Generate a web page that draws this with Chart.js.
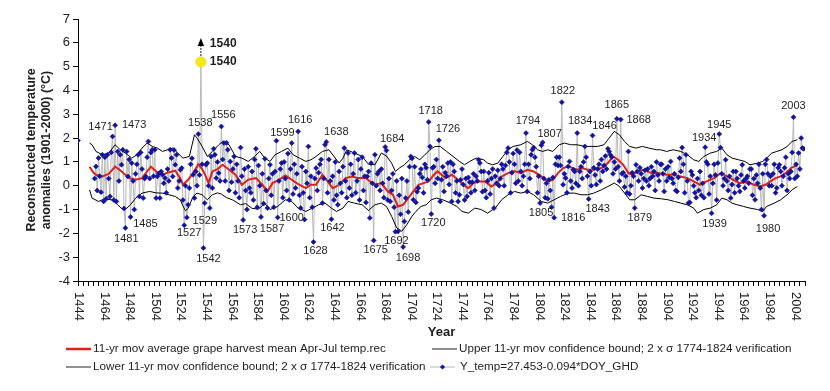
<!DOCTYPE html>
<html>
<head>
<meta charset="utf-8">
<title>Grape harvest temperature reconstruction</title>
<script src="https://cdn.jsdelivr.net/npm/chart.js@4.4.1/dist/chart.umd.min.js"></script>
<style>
    html, body { margin: 0; padding: 0; background: #fff; }
    #wrap { width: 830px; height: 391px; position: relative; }
</style>
</head>
<body>
<div id="wrap"><canvas id="chart"></canvas></div>
<script>
// ── Data ──────────────────────────────────────────────────
var firstYear = 1444;
var n = null;

// Y_temp = 27.453 - 0.094*DOY_GHD, one value per year from 1444 (null = no data)
var tempVals = [
    1.9, n, n, n, n, n,                                              // 1444-1449
    n, n, n, n, n, n, n, 0.3, 0.81, -0.2,                            // 1450
    1.16, 0.4, -0.27, 1.3, -0.66, 1.2, -0.55, 1.3, 0.3, -0.45,       // 1460
    1.4, 2.07, -0.6, 2.54, -0.66, 1.44, 0.2, 1.3, 0.88, 1.51,        // 1470
    -0.96, -1.77, 1.44, 0.39, 1.1, -1.31, 0.95, 0.2, -1.0, 0.5,      // 1480
    0.9, 1.3, -0.45, 1.4, 0.7, -0.52, 0.3, 0.39, 1.2, 1.86,          // 1490
    0.3, 1.4, 1.51, 0.4, 1.51, -0.52, 0.39, 0.5, -0.52, 0.6,         // 1500
    0.46, 0.1, 0.32, -0.3, 0.7, 0.2, 1.51, 1.16, 0.39, 1.5,          // 1510
    0.88, 1.3, -0.1, 0.2, 0.67, 0.74, -0.6, -1.66, 0.0, -1.33,       // 1520
    -0.8, -0.1, 0.9, 1.15, 0.46, -0.52, 0.6, 0.0, 2.17, 0.45,        // 1530
    5.2, 0.9, -2.61, -0.73, 0.88, 0.95, 0.0, -0.94, 1.23, -0.1,      // 1540
    1.55, 1.3, 0.32, 1.0, 0.53, 0.2, 2.49, 1.1, 1.79, 0.2,           // 1550
    1.8, 1.51, -0.2, 1.02, 0.15, 0.7, 1.23, -0.3, 0.9, 0.2,          // 1560
    -0.5, 1.6, 0.4, -1.44, 0.7, -0.2, -1.0, 0.8, -0.1, -0.3,         // 1570
    0.6, -0.6, 1.1, 1.55, -0.9, 0.85, 0.0, -1.31, 0.5, -0.75,        // 1580
    1.13, -0.2, -0.94, 0.3, 0.88, -0.4, 0.5, -0.9, 0.6, 1.89,        // 1590
    -1.33, 0.2, 0.7, 0.95, -0.5, 1.0, 0.3, -0.2, 1.35, -0.6,         // 1600
    0.7, 1.79, -0.35, 0.9, -0.1, 0.5, 2.28, -0.4, -0.94, 0.8,        // 1610
    -0.3, -1.42, 0.6, 0.1, 1.65, -0.5, 0.4, -0.9, -2.36, 0.3,        // 1620
    0.74, -0.2, 0.55, 0.9, 1.1, -0.73, 0.3, 1.72, 1.84, -0.3,        // 1630
    1.1, 0.2, -1.41, 0.4, -0.6, 1.0, -0.4, -0.8, 0.6, 0.1,           // 1640
    -0.3, 0.8, 1.58, 0.2, -0.5, 1.37, -0.1, 0.9, -0.4, 0.5,          // 1650
    1.37, -0.3, 0.2, 1.1, -0.6, 0.7, 1.2, -0.2, 0.4, -0.7,           // 1660
    0.39, 0.6, -1.35, 0.95, 0.1, -2.3, 1.3, 0.0, 0.5, 0.6,           // 1670
    -0.2, 0.7, 0.1, -0.5, 1.63, 1.48, -0.6, 0.3, -0.66, -0.2,        // 1680
    0.5, -0.9, -1.93, 0.2, -1.92, -0.4, -1.2, 0.3, -2.57, -1.5,      // 1690
    -0.52, 0.2, -1.1, 0.8, 1.23, 1.15, -0.59, 0.8, -0.7, -0.25,      // 1700
    -0.1, 0.5, 0.7, 0.35, -0.3, 0.9, 0.75, 0.25, 2.68, 1.65,         // 1710
    -1.19, 0.75, 0.8, 0.1, 1.1, 0.3, 1.91, -0.66, 0.25, 0.8,         // 1720
    -0.24, 0.55, 0.4, 0.95, 0.05, 1.0, -0.66, 0.9, 0.6, -0.3,        // 1730
    0.2, -0.66, -0.38, 0.25, 0.7, 0.05, -0.6, 0.3, -0.45, 0.35,      // 1740
    0.15, -0.3, 0.15, 0.5, -0.2, 0.4, 0.2, 1.09, 0.95, 0.6,          // 1750
    -0.25, 0.6, -0.2, -0.5, 0.2, 0.55, -0.35, 0.3, 0.7, -0.94,       // 1760
    0.4, 0.1, 0.65, 0.0, 0.3, 0.9, 0.7, 0.0, 0.85, 1.4,              // 1770
    1.58, 1.0, -0.3, 0.55, 1.35, 0.9, 0.1, 1.5, 0.2, 1.4,            // 1780
    0.6, 0.0, 0.4, 0.9, 2.21, -0.24, 0.9, 0.3, 1.3, 1.51,            // 1790
    1.6, 1.2, 0.8, -0.3, 0.4, -0.73, 1.7, 1.82, 0.3, -0.5,           // 1800
    0.1, -0.55, 0.25, -0.2, -0.9, 0.35, -1.34, 0.9, 1.2, 0.85,       // 1810
    1.2, 0.85, 3.51, 0.04, 0.5, 0.32, -0.3, 0.81, 1.02, 0.2,         // 1820
    -0.1, 0.67, 0.6, 0.1, 2.21, 0.0, 0.6, 0.8, 0.3, 1.0,             // 1830
    1.65, 1.2, 0.4, -0.56, 0.6, 0.0, 2.11, 0.75, 0.45, 0.05,         // 1840
    0.7, 0.9, 0.2, 1.1, 0.6, 0.85, 1.25, 0.7, 1.55, 1.44,            // 1850
    1.3, 1.2, 0.5, 1.0, 0.7, 2.81, 0.8, 0.2, 2.78, 0.5,              // 1860
    0.55, -0.05, 0.4, -0.3, 1.44, -0.35, 0.0, 0.55, 0.4, -0.94,      // 1870
    0.88, 0.6, 0.2, 0.75, 0.5, -0.1, 0.3, 0.65, 0.2, 0.7,            // 1880
    0.0, 0.3, 0.8, 0.4, 0.6, -0.2, 1.0, 0.45, 0.2, 0.9,              // 1890
    0.9, 0.5, -0.24, 0.7, 0.2, 0.8, 0.35, 1.02, 0.3, 0.1,            // 1900
    0.5, -0.2, -0.24, 0.35, 1.16, 0.6, 1.6, 0.9, -0.3, 1.3,          // 1910
    0.2, -0.73, -0.7, 0.6, 0.45, 0.0, -0.3, -0.5, 0.3, -0.2,         // 1920
    0.6, -0.4, 0.1, -0.5, 1.62, 1.0, 0.9, -0.35, 0.4, -1.16,         // 1930
    0.1, 0.9, 0.45, -0.6, 0.95, 2.17, 1.6, 0.5, 0.0, 0.3,            // 1940
    1.09, 0.2, -0.2, 0.4, -0.52, 0.05, 0.6, -0.3, 0.6, 0.3,          // 1950
    0.0, -0.24, 0.45, 0.88, 0.2, -0.1, 0.3, 0.4, 0.1, 0.7,           // 1960
    0.7, -0.4, 0.3, -0.59, 0.45, 0.1, 0.9, -0.1, -1.0, 0.5,          // 1970
    -1.26, 0.9, 1.1, 0.5, 0.0, 0.4, 0.0, 0.5, 0.9, -0.3,             // 1980
    -0.1, 0.75, 0.88, 0.6, 0.0, 0.4, 0.75, 1.2, -0.2, 0.5,           // 1990
    0.3, 0.6, 1.4, 2.88, 0.3, 0.9, 0.4, 1.37, 0.7, 2.0,              // 2000
    1.58, 1.55                                                       // 2010
];

// 11-yr moving average (red)
var redYears = [
    1453, 1456, 1458, 1463, 1468, 1473, 1477, 1480, 1485, 1489,
    1494, 1498, 1501, 1505, 1510, 1515, 1520, 1524, 1526, 1530,
    1534, 1538, 1541, 1543, 1546, 1549, 1553, 1557, 1562, 1567,
    1572, 1577, 1583, 1588, 1592, 1596, 1601, 1606, 1611, 1616,
    1622, 1626, 1630, 1635, 1639, 1643, 1648, 1653, 1658, 1663,
    1669, 1672, 1676, 1681, 1686, 1690, 1694, 1698, 1702, 1706,
    1710, 1714, 1718, 1722, 1725, 1731, 1736, 1741, 1745, 1749,
    1753, 1757, 1762, 1767, 1771, 1775, 1780, 1785, 1790, 1795,
    1800, 1806, 1811, 1815, 1819, 1823, 1827, 1831, 1834, 1838,
    1842, 1847, 1853, 1858, 1862, 1866, 1870, 1874, 1877, 1881,
    1886, 1892, 1897, 1900, 1904, 1909, 1915, 1920, 1925, 1930,
    1935, 1941, 1946, 1951, 1956, 1961, 1967, 1972, 1977, 1981,
    1985, 1989, 1993, 1997, 2001, 2006
];
var redVals = [
    0.80, 0.55, 0.46, 0.39, 0.50, 0.80, 0.65, 0.50, 0.30, 0.25,
    0.32, 0.60, 0.80, 0.60, 0.46, 0.57, 0.63, 0.30, 0.04, 0.25,
    0.53, 0.90, 0.70, 0.50, 0.11, 0.60, 0.70, 0.88, 0.67, 0.46,
    0.04, 0.25, 0.32, 0.04, -0.24, 0.11, 0.25, 0.43, 0.25, 0.07,
    -0.10, 0.04, 0.04, 0.46, 0.18, -0.10, 0.04, 0.32, 0.39, 0.32,
    0.32, 0.18, 0.04, 0.11, -0.24, -0.38, -0.87, -0.80, -0.52, -0.24,
    0.04, 0.11, 0.18, 0.46, 0.60, 0.32, 0.46, 0.25, 0.04, -0.10,
    0.11, 0.18, 0.18, -0.03, 0.10, 0.39, 0.53, 0.62, 0.53, 0.67,
    0.60, 0.39, 0.18, 0.25, 0.53, 0.74, 0.81, 0.74, 0.67, 0.74,
    0.67, 0.67, 0.74, 0.95, 1.23, 1.09, 0.88, 0.53, 0.46, 0.60,
    0.67, 0.53, 0.53, 0.50, 0.46, 0.46, 0.39, 0.32, 0.18, 0.04,
    0.18, 0.32, 0.53, 0.39, 0.25, 0.11, 0.18, 0.04, -0.03, 0.04,
    0.18, 0.32, 0.39, 0.53, 0.74, 0.88
];

// upper confidence bound
var upperYears = [
    1453, 1455, 1458, 1463, 1468, 1473, 1477, 1481, 1486, 1490,
    1494, 1498, 1502, 1506, 1510, 1514, 1518, 1522, 1526, 1531,
    1535, 1537, 1541, 1545, 1549, 1554, 1557, 1562, 1567, 1572,
    1577, 1582, 1586, 1590, 1594, 1598, 1603, 1608, 1612, 1617,
    1622, 1626, 1630, 1635, 1640, 1644, 1648, 1651, 1654, 1660,
    1666, 1671, 1676, 1681, 1685, 1689, 1692, 1695, 1699, 1703,
    1707, 1711, 1715, 1719, 1723, 1727, 1732, 1737, 1742, 1746,
    1750, 1755, 1761, 1764, 1768, 1772, 1776, 1780, 1784, 1790,
    1795, 1799, 1803, 1807, 1811, 1815, 1820, 1824, 1829, 1834,
    1840, 1845, 1850, 1855, 1859, 1863, 1867, 1871, 1875, 1880,
    1885, 1890, 1896, 1899, 1904, 1909, 1915, 1920, 1925, 1929,
    1933, 1938, 1943, 1947, 1951, 1955, 1960, 1965, 1969, 1975,
    1979, 1982, 1986, 1990, 1994, 1998, 2002, 2006
];
var upperVals = [
    1.79, 1.72, 1.44, 1.30, 1.37, 1.72, 1.51, 1.37, 1.16, 1.30,
    1.58, 1.79, 1.65, 1.58, 1.44, 1.51, 1.58, 1.37, 1.16, 1.23,
    2.14, 2.00, 1.65, 1.23, 1.44, 1.72, 1.86, 1.72, 1.23, 1.16,
    1.02, 1.23, 1.44, 1.16, 1.02, 1.30, 1.44, 1.58, 1.30, 1.16,
    1.02, 1.09, 1.23, 1.44, 1.51, 1.23, 0.95, 1.16, 1.51, 1.37,
    1.23, 0.90, 0.88, 1.37, 1.25, 0.95, 0.60, 0.74, 0.88, 1.09,
    1.23, 1.09, 1.30, 1.51, 1.65, 1.65, 1.44, 1.23, 1.02, 0.88,
    1.02, 1.16, 1.09, 0.95, 0.88, 0.95, 1.23, 1.51, 1.65, 1.72,
    1.86, 1.72, 1.51, 1.44, 1.51, 1.44, 1.72, 1.79, 1.72, 1.72,
    1.65, 1.65, 1.65, 1.72, 2.00, 2.28, 2.14, 1.86, 1.65, 1.58,
    1.65, 1.58, 1.51, 1.51, 1.44, 1.51, 1.44, 1.30, 1.09, 1.02,
    1.23, 1.37, 1.44, 1.58, 1.30, 1.16, 1.09, 1.02, 0.88, 0.95,
    1.02, 1.16, 1.37, 1.44, 1.51, 1.65, 1.86, 1.93
];

// lower confidence bound
var lowerYears = [
    1453, 1455, 1460, 1465, 1471, 1475, 1479, 1482, 1485, 1489,
    1494, 1500, 1505, 1510, 1515, 1520, 1524, 1526, 1528, 1530,
    1534, 1537, 1541, 1545, 1549, 1553, 1556, 1560, 1565, 1571,
    1575, 1580, 1585, 1590, 1594, 1600, 1606, 1611, 1616, 1622,
    1627, 1632, 1637, 1642, 1646, 1651, 1655, 1660, 1666, 1671,
    1676, 1681, 1685, 1689, 1693, 1697, 1701, 1705, 1708, 1712,
    1716, 1720, 1724, 1729, 1735, 1740, 1744, 1749, 1754, 1759,
    1764, 1770, 1775, 1780, 1785, 1790, 1795, 1800, 1806, 1811,
    1816, 1821, 1827, 1832, 1837, 1842, 1847, 1853, 1858, 1863,
    1867, 1871, 1875, 1879, 1884, 1889, 1894, 1900, 1905, 1910,
    1915, 1920, 1925, 1928, 1933, 1938, 1943, 1947, 1951, 1955,
    1959, 1964, 1969, 1975, 1979, 1982, 1988, 1993, 1998, 2002,
    2006
];
var lowerVals = [
    -0.17, -0.52, -0.66, -0.55, -0.60, -0.80, -1.00, -0.95, -0.80, -0.52,
    -0.31, -0.24, -0.30, -0.31, -0.38, -0.45, -0.60, -0.85, -1.05, -0.95,
    -0.45, -0.31, -0.38, -0.59, -0.38, -0.30, -0.35, -0.50, -0.60, -0.80,
    -0.75, -0.95, -0.98, -0.75, -1.00, -0.87, -0.59, -0.66, -0.94, -1.08,
    -0.94, -0.80, -0.73, -0.94, -1.08, -0.94, -0.66, -0.73, -0.80, -1.04,
    -0.80, -0.73, -0.87, -1.28, -1.77, -1.91, -1.63, -1.28, -1.08, -0.87,
    -0.80, -0.59, -0.52, -0.59, -0.73, -0.87, -1.08, -1.15, -0.94, -1.00,
    -1.15, -0.94, -0.59, -0.38, -0.24, -0.31, -0.24, -0.38, -0.66, -0.73,
    -0.59, -0.45, -0.31, -0.31, -0.38, -0.38, -0.31, -0.17, -0.03, 0.11,
    -0.03, -0.31, -0.59, -0.59, -0.38, -0.45, -0.52, -0.55, -0.59, -0.66,
    -0.73, -0.80, -0.94, -1.15, -1.00, -0.94, -0.80, -0.52, -0.59, -0.73,
    -0.80, -0.87, -0.94, -1.00, -1.08, -0.87, -0.73, -0.59, -0.38, -0.17,
    -0.03
];

// years labelled on the chart
var labelYears = [1471, 1473, 1481, 1485, 1527, 1529, 1538, 1542, 1556, 1573,
                  1587, 1599, 1600, 1616, 1628, 1638, 1642, 1675, 1684, 1692,
                  1698, 1718, 1720, 1726, 1794, 1805, 1807, 1816, 1822, 1834,
                  1843, 1846, 1865, 1868, 1879, 1934, 1939, 1945, 1980, 2003];
var outlierYear = 1540;

var yTicks = [-4, -3, -2, -1, 0, 1, 2, 3, 4, 5, 6, 7];
var xLabelStep = 20;
var xTickStep = 4;
var xMin = 1444, xMax = 2012;

// ── Styling (kept apart from the data) ────────────────────
var BLUE = '#12129e';
var RED = '#e0201c';
var GREY = '#b9b9b9';
var INK = '#1e1e1e';
var FONT = '"Liberation Sans", Arial, sans-serif';

// label placement relative to its point, px (same order as labelYears)
var labelOffsets = [
    [-12, -9], [19, 0], [1, 11], [15, 7], [5, 8], [18, 4], [2, -11], [5, 11], [2, -11], [2, 10],
    [11, 12], [6, -8], [14, 1], [2, -11], [2, 9], [10, -10], [1, 9], [2, 9], [7, -8], [1, 9],
    [5, 11], [2, -11], [2, 9], [9, -11], [2, -12], [1, 10], [7, -8], [19, 0], [1, -11], [3, -12],
    [9, 10], [12, -10], [0, -14], [18, 0], [5, 10], [-1, -9], [3, 11], [0, -9], [4, 13], [0, -11]
];

// ── Build series ──────────────────────────────────────────
function valueOf(yr) { return tempVals[yr - firstYear]; }

var tempSeries = tempVals.map(function (v, i) { return { x: firstYear + i, y: v }; });
var tempPoints = tempSeries.filter(function (p) { return p.y !== null; });
function pairs(xs, ys) { return xs.map(function (x, i) { return { x: x, y: ys[i] }; }); }

function isOutlier(c) { return c.raw && c.raw.x === outlierYear; }

// ── Overlay: labels, axis texts, legend ───────────────────
var overlay = {
    id: 'overlay',
    afterDatasetsDraw: function (chart) {
        var ctx = chart.ctx, xs = chart.scales.x, ys = chart.scales.y;
        ctx.save();

        // year labels next to the extremes
        ctx.fillStyle = INK;
        ctx.font = '11px ' + FONT;
        ctx.textAlign = 'center';
        ctx.textBaseline = 'middle';
        labelYears.forEach(function (yr, i) {
            var px = xs.getPixelForValue(yr);
            var py = ys.getPixelForValue(valueOf(yr));
            ctx.fillText(String(yr), px + labelOffsets[i][0], py + labelOffsets[i][1]);
        });

        // 1540 off-scale marker: dotted stem, arrow head, two bold labels
        var ox = xs.getPixelForValue(outlierYear);
        var oy = ys.getPixelForValue(valueOf(outlierYear));
        var tip = ys.getPixelForValue(6.2);
        var base = ys.getPixelForValue(5.87);
        ctx.strokeStyle = '#000';
        ctx.lineWidth = 1.2;
        ctx.setLineDash([1.5, 1.5]);
        ctx.beginPath();
        ctx.moveTo(ox, oy - 6);
        ctx.lineTo(ox, base);
        ctx.stroke();
        ctx.setLineDash([]);
        ctx.fillStyle = '#000';
        ctx.beginPath();
        ctx.moveTo(ox, tip);
        ctx.lineTo(ox - 3.2, base);
        ctx.lineTo(ox + 3.2, base);
        ctx.closePath();
        ctx.fill();
        ctx.fillStyle = INK;
        ctx.font = 'bold 12px ' + FONT;
        ctx.textAlign = 'left';
        ctx.fillText(String(outlierYear), ox + 9, ys.getPixelForValue(5.95));
        ctx.fillText(String(outlierYear), ox + 9, oy);

        ctx.restore();
    },
    afterDraw: function (chart) {
        var ctx = chart.ctx, xs = chart.scales.x, area = chart.chartArea;
        ctx.save();
        ctx.fillStyle = INK;

        // x tick labels, rotated to read downwards
        ctx.font = '13px ' + FONT;
        ctx.textAlign = 'left';
        ctx.textBaseline = 'middle';
        for (var yr = xMin; yr <= xMax; yr += xLabelStep) {
            ctx.save();
            ctx.translate(xs.getPixelForValue(yr) + 0.5, area.bottom + 11);
            ctx.rotate(Math.PI / 2);
            ctx.fillText(String(yr), 0, 0);
            ctx.restore();
        }

        // axis titles
        ctx.font = 'bold 13px ' + FONT;
        ctx.textAlign = 'center';
        ctx.fillText('Year', (area.left + area.right) / 2, 332);
        ctx.save();
        ctx.translate(32, (area.top + area.bottom) / 2);
        ctx.rotate(-Math.PI / 2);
        ctx.font = 'bold 12.5px ' + FONT;
        ctx.fillText('Reconstructed temperature', 0, 0);
        ctx.fillText('anomalies (1901-2000) (\u00B0C)', 0, 15);
        ctx.restore();

        // legend
        ctx.font = '11.7px ' + FONT;
        ctx.textAlign = 'left';
        var rows = [
            { x: 66, y: 349, color: RED, width: 2.5, text: '11-yr mov average grape harvest mean Apr-Jul temp.rec' },
            { x: 432, y: 349, color: '#222', width: 1, text: 'Upper 11-yr mov confidence bound; 2 x \u03C3 1774-1824 verification' },
            { x: 66, y: 367, color: '#222', width: 1, text: 'Lower 11-yr mov confidence bound; 2 x \u03C3 1774-1824 verification' },
            { x: 430, y: 367, color: GREY, width: 1, marker: true, text: 'Y_temp=27.453-0.094*DOY_GHD' }
        ];
        rows.forEach(function (r) {
            ctx.strokeStyle = r.color;
            ctx.lineWidth = r.width;
            ctx.beginPath();
            ctx.moveTo(r.x, r.y);
            ctx.lineTo(r.x + 25, r.y);
            ctx.stroke();
            if (r.marker) {
                ctx.fillStyle = BLUE;
                ctx.beginPath();
                ctx.moveTo(r.x + 12.5, r.y - 2.6);
                ctx.lineTo(r.x + 15.1, r.y);
                ctx.lineTo(r.x + 12.5, r.y + 2.6);
                ctx.lineTo(r.x + 9.9, r.y);
                ctx.closePath();
                ctx.fill();
            }
            ctx.fillStyle = INK;
            ctx.fillText(r.text, r.x + 27 + (r.marker ? 3 : 0), r.y);
        });
        ctx.restore();
    }
};

// ── Chart ─────────────────────────────────────────────────
var chart = new Chart(document.getElementById('chart'), {
    type: 'line',
    data: {
        datasets: [
            {
                label: 'Y_temp=27.453-0.094*DOY_GHD',
                data: tempPoints,
                showLine: false,
                pointStyle: function (c) { return isOutlier(c) ? 'circle' : 'rectRot'; },
                pointRadius: function (c) { return isOutlier(c) ? 5.2 : 2.5; },
                pointBackgroundColor: function (c) { return isOutlier(c) ? '#f2e81a' : BLUE; },
                pointBorderColor: function (c) { return isOutlier(c) ? '#e8dc10' : BLUE; },
                pointBorderWidth: 0.6
            },
            {
                label: '11-yr mov average grape harvest mean Apr-Jul temp.rec',
                data: pairs(redYears, redVals),
                borderColor: RED,
                borderWidth: 2,
                pointRadius: 0,
                tension: 0
            },
            {
                label: 'Upper 11-yr mov confidence bound',
                data: pairs(upperYears, upperVals),
                borderColor: '#000',
                borderWidth: 1,
                pointRadius: 0,
                tension: 0
            },
            {
                label: 'Lower 11-yr mov confidence bound',
                data: pairs(lowerYears, lowerVals),
                borderColor: '#000',
                borderWidth: 1,
                pointRadius: 0,
                tension: 0
            },
            {
                label: 'Y_temp line',
                data: tempSeries,
                borderColor: GREY,
                borderWidth: 1,
                pointRadius: 0,
                spanGaps: false,
                tension: 0
            }
        ]
    },
    options: {
        responsive: true,
        maintainAspectRatio: false,
        animation: false,
        events: [],
        layout: { padding: { top: 19, right: 25, bottom: 0, left: 0 } },
        plugins: { legend: { display: false }, tooltip: { enabled: false } },
        scales: {
            x: {
                type: 'linear',
                min: xMin,
                max: xMax,
                afterBuildTicks: function (scale) {
                    var t = [];
                    for (var v = xMin; v <= xMax; v += xTickStep) t.push({ value: v });
                    scale.ticks = t;
                },
                afterFit: function (scale) { scale.height = 110; },
                ticks: { display: false },
                grid: { drawOnChartArea: false, drawTicks: true, tickLength: 5, color: '#000' },
                border: { display: true, color: '#000', width: 1 }
            },
            y: {
                min: -4,
                max: 7,
                afterBuildTicks: function (scale) {
                    scale.ticks = yTicks.map(function (v) { return { value: v }; });
                },
                afterFit: function (scale) { scale.width = 78; },
                ticks: {
                    color: INK,
                    padding: 3,
                    font: { family: FONT, size: 13 }
                },
                grid: { drawOnChartArea: false, drawTicks: true, tickLength: 5, color: '#000' },
                border: { display: true, color: '#000', width: 1 }
            }
        }
    },
    plugins: [overlay]
});
</script>
</body>
</html>
